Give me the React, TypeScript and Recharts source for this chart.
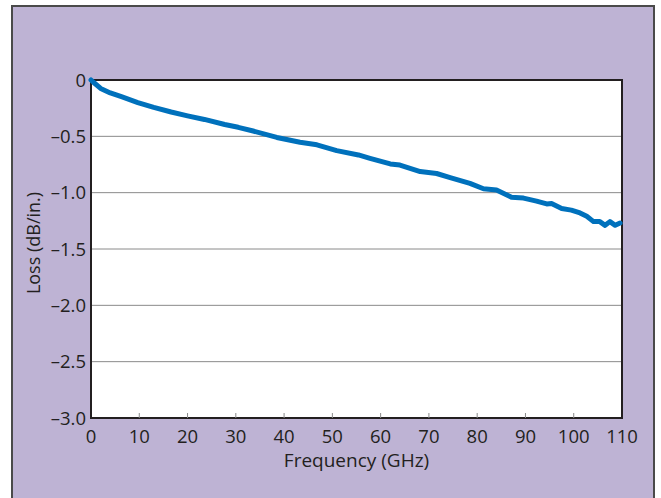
import {
  LineChart,
  Line,
  XAxis,
  YAxis,
  CartesianGrid,
  ReferenceArea,
} from "recharts";

// Frequency (GHz) and loss (dB/in.)
const freqGHz = [
  0, 0.5, 2, 4, 6.3, 9.7, 13, 16.6, 20, 23.5, 27.7, 30.5, 33.6, 38.5, 43.3,
  46.8, 50.9, 55.4, 57.8, 62, 64, 68.2, 71.6, 74.4, 78.5, 81.3, 84, 87.1, 89.6,
  92.3, 94.4, 95.4, 97.5, 99.5, 101.3, 102.7, 104.1, 105.4, 106.5, 107.5, 108.6,
  109.6,
];
const lossDb = [
  0, -0.02, -0.075, -0.115, -0.148, -0.2, -0.243, -0.284, -0.318, -0.35, -0.395,
  -0.42, -0.453, -0.51, -0.553, -0.575, -0.627, -0.665, -0.695, -0.745, -0.755,
  -0.813, -0.83, -0.866, -0.917, -0.965, -0.976, -1.04, -1.048, -1.075, -1.1,
  -1.096, -1.14, -1.155, -1.18, -1.21, -1.257, -1.257, -1.29, -1.257, -1.29,
  -1.27,
];
const xTicks = [0, 10, 20, 30, 40, 50, 60, 70, 80, 90, 100, 110];
const yTicks = [0, -0.5, -1.0, -1.5, -2.0, -2.5, -3.0];

const data = freqGHz.map((f, i) => ({ f, loss: lossDb[i] }));

const FONT = "'Open Sans', 'Noto Sans', sans-serif";
const INK = "#231f20";

const fmtY = (v: number) =>
  v === 0 ? "0" : "\u2013" + Math.abs(v).toFixed(1);

const XTick = (props: any) => {
  const { x, y, payload } = props;
  const v = payload.value;
  const inner = v !== 0 && v !== 110;
  return (
    <g>
      {inner && <line x1={x} x2={x} y1={y} y2={y - 5} stroke="#8a8a8a" strokeWidth={1} />}
      <text
        x={x}
        y={y + 25}
        textAnchor="middle"
        fontFamily={FONT}
        fontSize={18.5}
        fill={INK}
      >
        {v}
      </text>
    </g>
  );
};

export default function App() {
  return (
    <div
      style={{
        position: "absolute",
        left: 0,
        top: 0,
        width: 661,
        height: 498,
        background: "#fff",
        overflow: "hidden",
      }}
    >
      <div
        style={{
          position: "absolute",
          left: 11,
          top: 5,
          width: 640,
          height: 510,
          background: "#beb3d4",
          border: "2px solid #4a4a4a",
        }}
      />
      <div style={{ position: "absolute", left: 0, top: 0 }}>
        <LineChart
          width={661}
          height={498}
          data={data}
          margin={{ top: 80, right: 39, bottom: 50, left: 31 }}
        >
          <CartesianGrid
            vertical={false}
            stroke="#8a8a8a"
            strokeWidth={1}
            fill="#fff"
            fillOpacity={1}
          />
          <XAxis
            dataKey="f"
            type="number"
            domain={[0, 110]}
            ticks={xTicks}
            interval={0}
            axisLine={false}
            tickLine={false}
            tickSize={0}
            tickMargin={0}
            height={30}
            tick={<XTick />}
            label={{
              content: () => (
                <text
                  x={356.5}
                  y={467}
                  textAnchor="middle"
                  fontFamily={FONT}
                  fontSize={19}
                  fill={INK}
                >
                  Frequency (GHz)
                </text>
              ),
            }}
          />
          <YAxis
            type="number"
            domain={[-3, 0]}
            ticks={yTicks}
            interval={0}
            width={60}
            axisLine={false}
            tickLine={false}
            tickSize={0}
            tickMargin={5}
            tickFormatter={fmtY}
            tick={{ fontFamily: FONT, fontSize: 18.5, fill: INK }}
            label={{
              content: () => (
                <text
                  x={40}
                  y={243}
                  transform="rotate(-90 40 243)"
                  textAnchor="middle"
                  fontFamily={FONT}
                  fontSize={18}
                  fill={INK}
                >
                  Loss (dB/in.)
                </text>
              ),
            }}
          />
          <ReferenceArea
            x1={0}
            x2={110}
            y1={-3}
            y2={0}
            fill="none"
            stroke={INK}
            strokeWidth={2}
          />
          <Line
            type="linear"
            dataKey="loss"
            stroke="#0071bc"
            strokeWidth={5}
            strokeLinejoin="round"
            strokeLinecap="round"
            dot={false}
            isAnimationActive={false}
          />
        </LineChart>
      </div>
    </div>
  );
}
